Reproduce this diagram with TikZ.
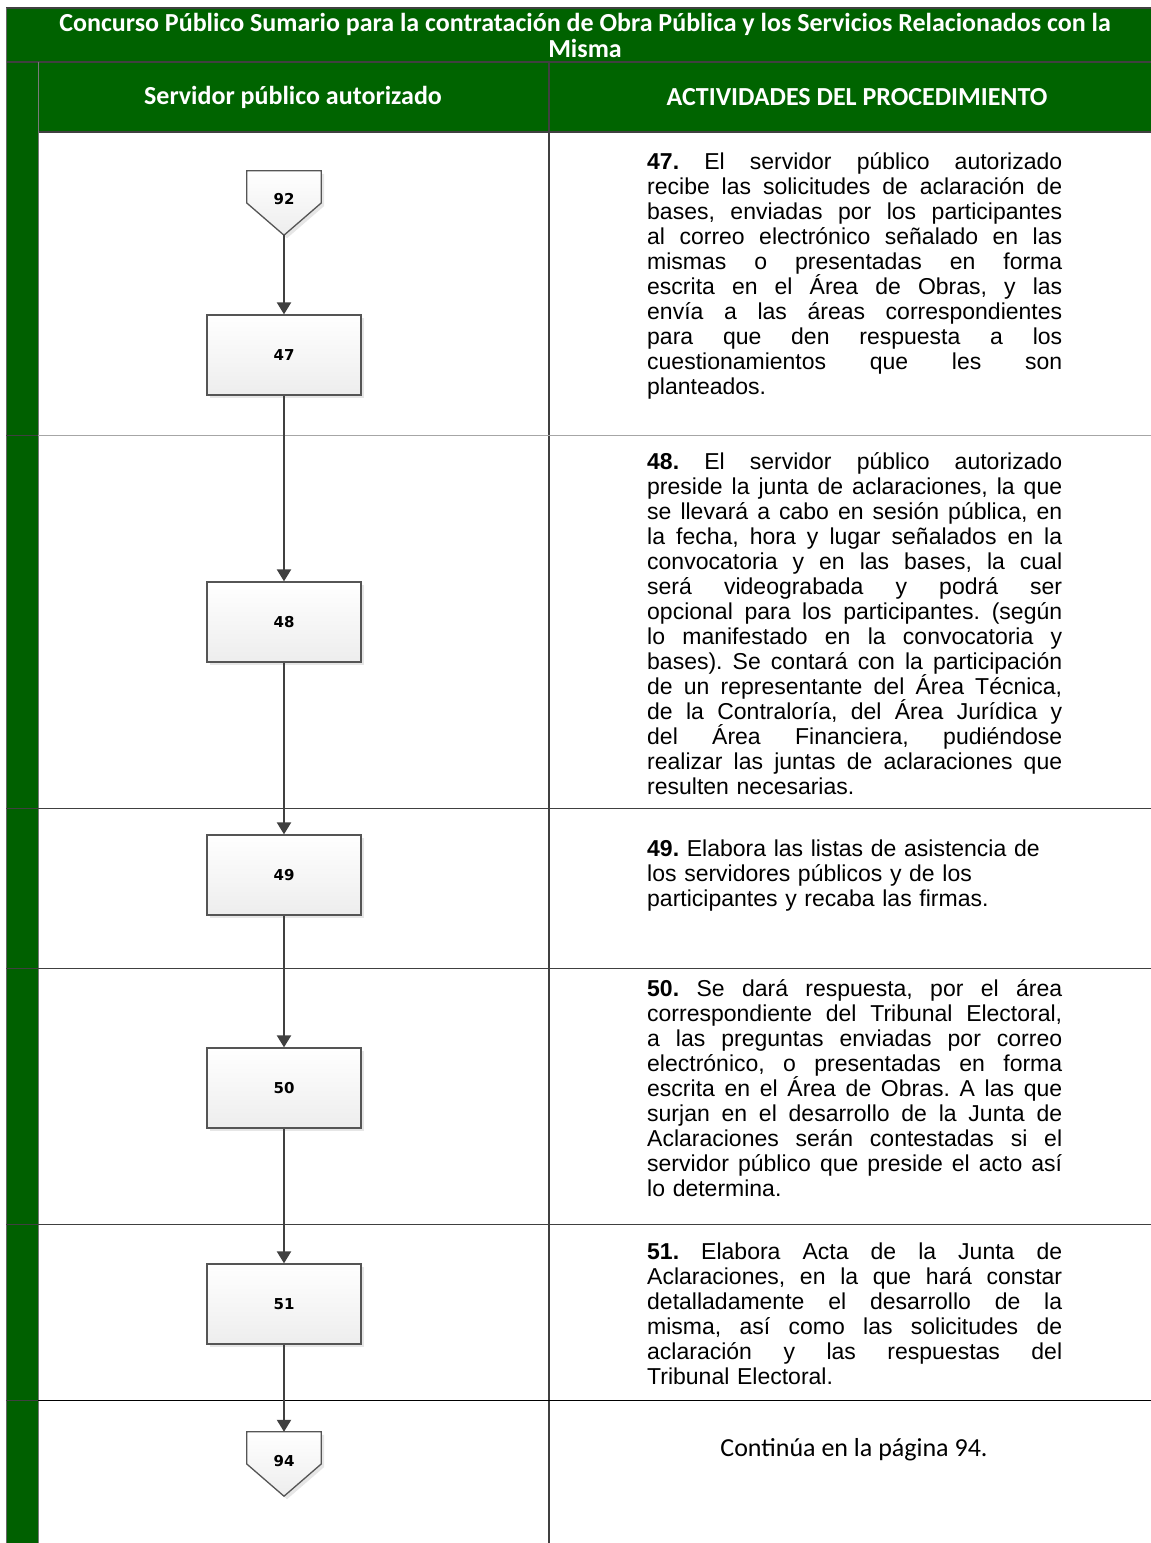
\documentclass[tikz,border=0pt]{standalone}
\usepackage{fontspec}
\setmainfont{Liberation Sans}
\newfontfamily\calfont{Carlito}
\newfontfamily\dvfont{DejaVu Sans}
\usetikzlibrary{arrows.meta,shadows,backgrounds}
\definecolor{tgreen}{RGB}{0,98,0}
\definecolor{hgreen}{RGB}{0,100,0}
\definecolor{bargreen}{RGB}{0,96,0}
\definecolor{linegray}{RGB}{64,64,64}
\definecolor{boxgray}{RGB}{85,85,85}
\frenchspacing
\def\jl#1{\par\lineskiplimit=-100pt\relax\lineskip=0pt\relax\noindent\hbox to 415pt{\spaceskip=0.278em plus 1fil\relax\strut#1}\par}
\def\lastl#1{\par\lineskiplimit=-100pt\relax\lineskip=0pt\relax\noindent\hbox{\strut#1}\par}
\tikzset{
  hdr/.style={text=white, font=\calfont\bfseries\fontsize{26}{26}\selectfont, align=center},
  procbox/.style={draw=boxgray, line width=1.3pt, top color=white, bottom color=gray!14,
    minimum width=154pt, minimum height=80pt, inner sep=0pt,
    font=\dvfont\bfseries\fontsize{15}{17}\selectfont,
    drop shadow={shadow xshift=3pt, shadow yshift=-3pt, opacity=0.2}},
  offpage/.style={minimum width=74pt, minimum height=64pt, inner sep=0pt,
    font=\dvfont\bfseries\fontsize{15}{17}\selectfont},
  offshape/.style={draw=boxgray, line width=1.3pt, top color=white, bottom color=gray!14,
    drop shadow={shadow xshift=3pt, shadow yshift=-3pt, opacity=0.2}},
  arr/.style={draw=linegray, line width=2.2pt, -{Triangle[length=12pt,width=14pt]}},
  desc/.style={anchor=north west, inner sep=0pt, text width=415pt,
    font=\fontsize{23}{25}\selectfont},
  rowline/.style={draw=linegray, line width=1pt},
}
\begin{document}
\begin{tikzpicture}[x=1pt,y=-1pt]
\useasboundingbox (0,0) rectangle (1151,1543);
% table background
\fill[tgreen] (6,8) rectangle (1151,62);
\fill[hgreen] (38,62) rectangle (1151,132);
\fill[bargreen] (6,62) rectangle (38,1543);
\draw[linegray, line width=1.5pt] (6,8) -- (1151,8);
\draw[linegray, line width=1.5pt] (6,62) -- (1151,62);
\draw[linegray, line width=1.5pt] (38,132) -- (1151,132);
\draw[linegray, line width=1.5pt] (549,62) -- (549,1543);
\draw[linegray!70, line width=1pt] (38,62) -- (38,1543);
\draw[black!60, line width=0.8pt] (6,8) -- (6,1543);
\foreach \yy in {435,808,968,1224,1400} {
  \draw[black!75, line width=0.8pt] (6,\yy) -- (38,\yy);
}
\draw[rowline, draw=gray!70] (38,435) -- (1151,435);
\draw[rowline] (38,808) -- (1151,808);
\draw[rowline] (38,968) -- (1151,968);
\draw[rowline] (38,1224) -- (1151,1224);
\draw[rowline, draw=black] (38,1400) -- (1151,1400);
% headers
\node[hdr] (title) at (585,35) {Concurso Público Sumario para la contratación de Obra Pública y los Servicios Relacionados con la\\Misma};
\node[hdr] (hleft) at (293,97) {Servidor público autorizado};
\node[hdr] (hright) at (857,97) {ACTIVIDADES DEL PROCEDIMIENTO};
% flow nodes
\node[offpage] (c92) at (284,203) {\raisebox{8pt}{92}};
\node[procbox] (b47) at (284,355) {47};
\node[procbox] (b48) at (284,622) {48};
\node[procbox] (b49) at (284,875) {49};
\node[procbox] (b50) at (284,1088) {50};
\node[procbox] (b51) at (284,1304) {51};
\node[offpage] (c94) at (284,1464) {\raisebox{7pt}{94}};
\begin{scope}[on background layer]
\path[offshape] (c92.north west) -- (c92.north east) -- (c92.east) -- (c92.south) -- (c92.west) -- cycle;
\path[offshape] (c94.north west) -- (c94.north east) -- (c94.east) -- (c94.south) -- (c94.west) -- cycle;
\end{scope}
\draw[arr] (c92.south) -- (b47.north);
\draw[arr] (b47.south) -- (b48.north);
\draw[arr] (b48.south) -- (b49.north);
\draw[arr] (b49.south) -- (b50.north);
\draw[arr] (b50.south) -- (b51.north);
\draw[arr] (b51.south) -- (c94.north);
% descriptions
\node[desc] (t47) at (647,144.5) {%
\jl{\textbf{47.} El servidor público autorizado}%
\jl{recibe las solicitudes de aclaración de}%
\jl{bases, enviadas por los participantes}%
\jl{al correo electrónico señalado en las}%
\jl{mismas o presentadas en forma}%
\jl{escrita en el Área de Obras, y las}%
\jl{envía a las áreas correspondientes}%
\jl{para que den respuesta a los}%
\jl{cuestionamientos que les son}%
\lastl{planteados.}};
\node[desc] (t48) at (647,444.5) {%
\jl{\textbf{48.} El servidor público autorizado}%
\jl{preside la junta de aclaraciones, la que}%
\jl{se llevará a cabo en sesión pública, en}%
\jl{la fecha, hora y lugar señalados en la}%
\jl{convocatoria y en las bases, la cual}%
\jl{será videograbada y podrá ser}%
\jl{opcional para los participantes. (según}%
\jl{lo manifestado en la convocatoria y}%
\jl{bases). Se contará con la participación}%
\jl{de un representante del Área Técnica,}%
\jl{de la Contraloría, del Área Jurídica y}%
\jl{del Área Financiera, pudiéndose}%
\jl{realizar las juntas de aclaraciones que}%
\lastl{resulten necesarias.}};
\node[desc] (t49) at (647,831.5) {%
\lastl{\textbf{49.} Elabora las listas de asistencia de}%
\lastl{los servidores públicos y de los}%
\lastl{participantes y recaba las firmas.}};
\node[desc] (t50) at (647,971.5) {%
\jl{\textbf{50.} Se dará respuesta, por el área}%
\jl{correspondiente del Tribunal Electoral,}%
\jl{a las preguntas enviadas por correo}%
\jl{electrónico, o presentadas en forma}%
\jl{escrita en el Área de Obras. A las que}%
\jl{surjan en el desarrollo de la Junta de}%
\jl{Aclaraciones serán contestadas si el}%
\jl{servidor público que preside el acto así}%
\lastl{lo determina.}};
\node[desc] (t51) at (647,1234.5) {%
\jl{\textbf{51.} Elabora Acta de la Junta de}%
\jl{Aclaraciones, en la que hará constar}%
\jl{detalladamente el desarrollo de la}%
\jl{misma, así como las solicitudes de}%
\jl{aclaración y las respuestas del}%
\lastl{Tribunal Electoral.}};
\node[font=\calfont\fontsize{26}{26}\selectfont] (t94) at (854,1450) {Continúa en la página 94.};
\end{tikzpicture}
\end{document}
